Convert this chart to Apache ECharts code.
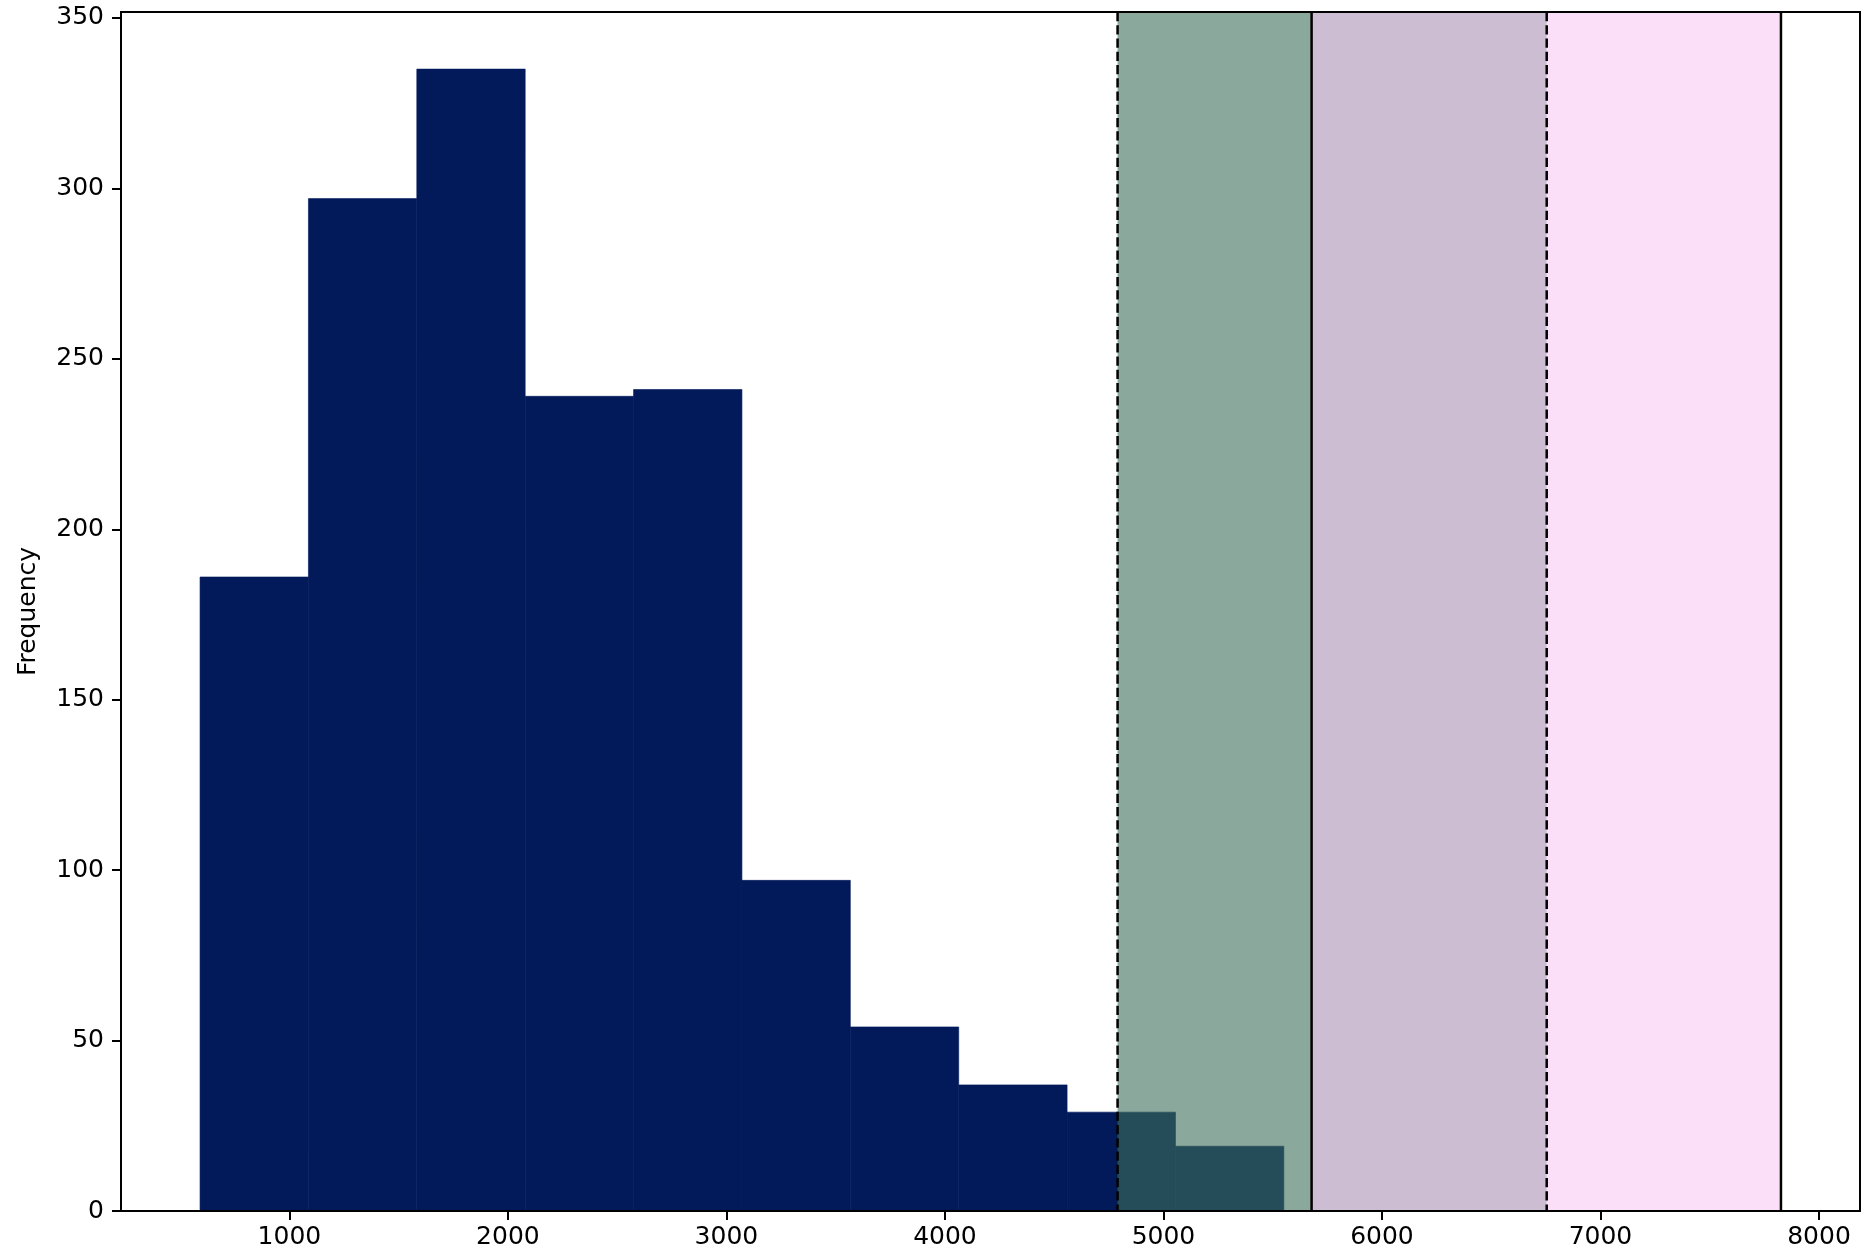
<!DOCTYPE html>
<html>
<head>
<meta charset="utf-8">
<script src="https://cdn.jsdelivr.net/npm/echarts@6/dist/echarts.min.js"></script>
<style>
html, body { margin: 0; padding: 0; background: #fff; }
#chart { width: 1868px; height: 1258px; }
</style>
</head>
<body>
<div id="chart"></div>
<script>
// histogram bins
var binEdges = [591, 1087, 1583, 2079, 2575, 3071, 3567, 4063, 4559, 5055, 5551];
var counts = [186, 297, 335, 239, 241, 97, 54, 37, 29, 19];
// shaded bands and vertical lines
var bandStarts = [4790, 5678, 6754];
var bandEnds = [5678, 6754, 7826];
var bandColors = ["rgba(60,110,88,0.6)", "rgba(170,145,182,0.6)", "rgba(248,202,245,0.6)"];
var lineValues = [4790, 5678, 6754, 7826];
var lineDashed = [true, false, true, false];
var xTicks = [1000, 2000, 3000, 4000, 5000, 6000, 7000, 8000];
var yTicks = [0, 50, 100, 150, 200, 250, 300, 350];

var barColor = "#021a5a";
var font = "DejaVu Sans";

// matplotlib style limits: 5% margin on x, top margin on y
var xLo = binEdges[0], xHi = lineValues[lineValues.length - 1];
var xMin = xLo - 0.05 * (xHi - xLo);
var xMax = xHi + 0.05 * (xHi - xLo);
var yMax = Math.max.apply(null, counts) * 1.05;

var barData = counts.map(function (c, i) {
	return [binEdges[i], binEdges[i + 1], c];
});
var bandData = bandStarts.map(function (s, i) {
	return [s, bandEnds[i], i];
});
var lineData = lineValues.map(function (v, i) {
	return [v, lineDashed[i] ? 1 : 0];
});

var myChart = echarts.init(document.getElementById("chart"), null, { renderer: "canvas" });
var option = {
	animation: false,
	grid: {
		left: 121,
		right: 8,
		top: 12,
		bottom: 47,
		show: true,
		z: 10,
		backgroundColor: "transparent",
		borderColor: "#000",
		borderWidth: 2
	},
	xAxis: {
		type: "value",
		min: xMin,
		max: xMax,
		z: 10,
		splitLine: { show: false },
		axisLine: { show: true, lineStyle: { color: "#000", width: 2 } },
		axisTick: { show: true, length: 9, lineStyle: { color: "#000", width: 2 }, customValues: xTicks },
		axisLabel: {
			color: "#000",
			fontFamily: font,
			fontSize: 25,
			margin: 14,
			customValues: xTicks,
			formatter: function (v) { return String(v); }
		}
	},
	yAxis: {
		type: "value",
		min: 0,
		max: yMax,
		z: 10,
		name: "Frequency",
		nameLocation: "middle",
		nameRotate: 90,
		nameGap: 80,
		nameTextStyle: { color: "#000", fontFamily: font, fontSize: 25 },
		splitLine: { show: false },
		axisLine: { show: true, lineStyle: { color: "#000", width: 2 } },
		axisTick: { show: true, length: 9, lineStyle: { color: "#000", width: 2 }, customValues: yTicks },
		axisLabel: {
			color: "#000",
			fontFamily: font,
			fontSize: 25,
			margin: 17,
			customValues: yTicks,
			formatter: function (v) { return String(v); }
		}
	},
	series: [
		{
			// histogram bars
			type: "custom",
			z: 2,
			data: barData,
			encode: { x: [0, 1], y: 2 },
			renderItem: function (params, api) {
				var p0 = api.coord([api.value(0), api.value(2)]);
				var p1 = api.coord([api.value(1), 0]);
				return {
					type: "rect",
					shape: { x: p0[0], y: p0[1], width: p1[0] - p0[0], height: p1[1] - p0[1] },
					style: { fill: barColor, stroke: barColor, lineWidth: 0.6 }
				};
			}
		},
		{
			// shaded bands
			type: "custom",
			z: 3,
			data: bandData,
			encode: { x: [0, 1] },
			renderItem: function (params, api) {
				var p0 = api.coord([api.value(0), yMax]);
				var p1 = api.coord([api.value(1), 0]);
				return {
					type: "rect",
					shape: { x: p0[0], y: p0[1], width: p1[0] - p0[0], height: p1[1] - p0[1] },
					style: { fill: bandColors[api.value(2)] }
				};
			}
		},
		{
			// vertical lines
			type: "custom",
			z: 4,
			data: lineData,
			encode: { x: 0 },
			renderItem: function (params, api) {
				var top = api.coord([api.value(0), yMax]);
				var bottom = api.coord([api.value(0), 0]);
				return {
					type: "line",
					shape: { x1: top[0], y1: top[1], x2: bottom[0], y2: bottom[1] },
					style: {
						stroke: "#000",
						lineWidth: 2.5,
						lineDash: api.value(1) ? [9.25, 4] : null
					}
				};
			}
		}
	]
};
myChart.setOption(option);
window.addEventListener("resize", myChart.resize);
</script>
</body>
</html>
